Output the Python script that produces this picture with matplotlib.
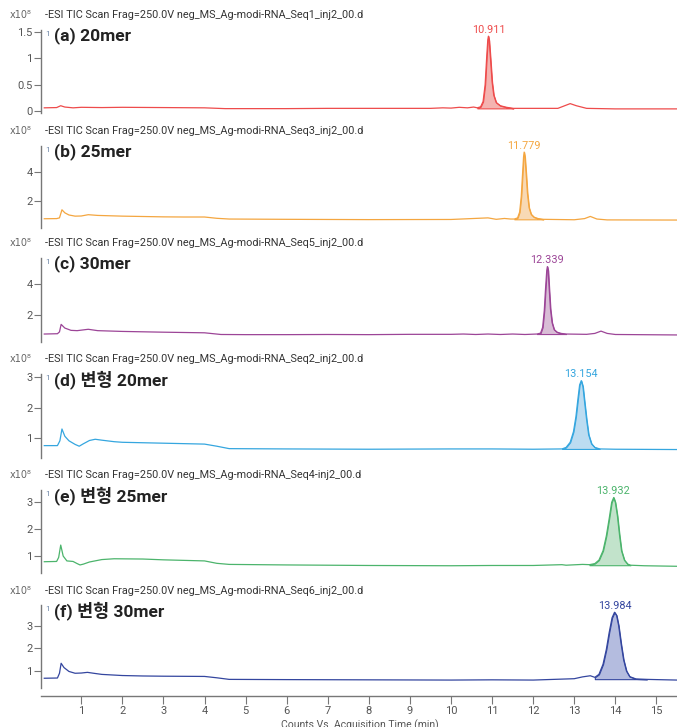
import matplotlib
matplotlib.use("Agg")
import matplotlib.pyplot as plt
import numpy as np

# ---- data (time in min, counts in 1e8) ----
files = ["Seq1_inj2_00.d", "Seq3_inj2_00.d", "Seq5_inj2_00.d",
         "Seq2_inj2_00.d", "Seq4-inj2_00.d", "Seq6_inj2_00.d"]
labels = ["(a) 20mer", "(b) 25mer", "(c) 30mer",
          "(d) 변형 20mer", "(e) 변형 25mer", "(f) 변형 30mer"]
peak_rt = [10.911, 11.779, 12.339, 13.154, 13.932, 13.984]
peak_top = [1.42, 5.35, 5.16, 2.89, 3.18, 3.59]
fill_range = [(10.64, 11.52, 0.05), (11.54, 12.25, 0.70), (12.09, 12.80, 0.76),
              (12.70, 13.62, 0.63), (13.37, 14.37, 0.66), (13.50, 14.77, 0.64)]
yticks = [[0, 0.5, 1, 1.5], [2, 4], [2, 4], [1, 2, 3], [1, 2, 3], [1, 2, 3]]
ylims = [(-0.038, 1.537), (0.10, 5.77), (0.24, 5.72),
         (0.33, 3.11), (0.37, 3.46), (0.25, 3.91)]

t_a = [0.1, 0.4, 0.5, 0.6, 0.8, 1.0, 1.5, 2, 3, 4, 4.5, 5, 6, 7, 8, 9, 9.5, 9.8, 10, 10.2, 10.4, 10.55,
       10.64, 10.72, 10.78, 10.83, 10.87, 10.895, 10.91, 10.93, 10.96, 11.0, 11.04, 11.1, 11.2, 11.35, 11.52,
       12.0, 12.6, 12.8, 12.9, 13.05, 13.3, 14, 15, 15.5]
y_a = [0.06, 0.065, 0.10, 0.075, 0.06, 0.07, 0.065, 0.07, 0.065, 0.06, 0.045, 0.045, 0.045, 0.05, 0.05, 0.05, 0.05, 0.06, 0.055, 0.07, 0.06, 0.075,
       0.06, 0.08, 0.18, 0.5, 1.05, 1.35, 1.42, 1.33, 1.0, 0.55, 0.3, 0.16, 0.1, 0.07, 0.05,
       0.05, 0.05, 0.11, 0.14, 0.10, 0.05, 0.04, 0.04, 0.04]

t_b = [0.1, 0.4, 0.47, 0.53, 0.6, 0.7, 0.85, 1.0, 1.17, 1.4, 2, 3, 3.5, 4, 4.3, 4.6, 6, 8, 10, 10.9, 11.1, 11.3, 11.45,
       11.54, 11.62, 11.67, 11.71, 11.74, 11.765, 11.78, 11.8, 11.83, 11.86, 11.9, 11.95, 12.02, 12.12, 12.25,
       13.0, 13.25, 13.39, 13.55, 13.8, 15.5]
y_b = [0.74, 0.75, 0.80, 1.36, 1.15, 1.0, 0.92, 0.93, 1.02, 0.97, 0.92, 0.87, 0.86, 0.86, 0.77, 0.72, 0.70, 0.68, 0.69, 0.80, 0.70, 0.76, 0.72,
       0.72, 0.80, 1.2, 2.3, 3.8, 5.0, 5.35, 5.0, 3.8, 2.5, 1.5, 1.05, 0.85, 0.75, 0.70,
       0.67, 0.75, 0.90, 0.72, 0.66, 0.65]

t_c = [0.1, 0.42, 0.47, 0.51, 0.6, 0.75, 0.9, 1.17, 1.4, 2, 3, 4, 4.4, 5, 6, 7, 8, 9, 10, 10.3, 10.6, 10.9, 11.2, 11.5, 11.8,
       12.09, 12.18, 12.23, 12.27, 12.3, 12.33, 12.345, 12.365, 12.39, 12.42, 12.46, 12.51, 12.58, 12.68, 12.8,
       13.3, 13.5, 13.65, 13.8, 14, 15.5]
y_c = [0.76, 0.78, 0.90, 1.39, 1.15, 1.0, 0.98, 1.07, 0.98, 0.93, 0.88, 0.84, 0.73, 0.72, 0.72, 0.73, 0.72, 0.74, 0.74, 0.76, 0.73, 0.76, 0.73, 0.76, 0.73,
       0.76, 0.82, 1.2, 2.3, 3.7, 4.9, 5.16, 4.9, 3.7, 2.4, 1.5, 1.05, 0.88, 0.80, 0.76,
       0.74, 0.80, 0.95, 0.80, 0.73, 0.70]

t_d = [0.1, 0.42, 0.48, 0.53, 0.6, 0.7, 0.85, 0.95, 1.05, 1.2, 1.34, 1.5, 1.8, 2.0, 3, 4, 4.3, 4.6, 6, 8, 10, 11, 12,
       12.7, 12.8, 12.9, 12.98, 13.04, 13.09, 13.13, 13.17, 13.21, 13.25, 13.3, 13.35, 13.42, 13.5, 13.62,
       14, 15.5]
y_d = [0.74, 0.74, 0.90, 1.29, 1.05, 0.90, 0.78, 0.72, 0.80, 0.91, 0.95, 0.92, 0.87, 0.85, 0.82, 0.79, 0.72, 0.64, 0.63, 0.62, 0.63, 0.63, 0.62,
       0.63, 0.68, 0.85, 1.2, 1.7, 2.3, 2.75, 2.89, 2.7, 2.2, 1.6, 1.1, 0.80, 0.68, 0.63,
       0.62, 0.61]

t_e = [0.1, 0.4, 0.45, 0.5, 0.56, 0.65, 0.8, 0.9, 0.97, 1.05, 1.2, 1.5, 1.8, 2.5, 3, 4, 4.3, 4.6, 6, 8, 10, 11, 12, 12.7, 12.8, 13.2,
       13.37, 13.5, 13.6, 13.7, 13.78, 13.85, 13.91, 13.96, 14.0, 14.05, 14.1, 14.15, 14.22, 14.3, 14.37,
       14.7, 15.5]
y_e = [0.79, 0.80, 0.95, 1.41, 1.0, 0.82, 0.80, 0.72, 0.67, 0.70, 0.78, 0.87, 0.90, 0.89, 0.86, 0.82, 0.73, 0.69, 0.67, 0.65, 0.64, 0.65, 0.65, 0.68, 0.66, 0.69,
       0.68, 0.72, 0.85, 1.2, 1.75, 2.4, 3.0, 3.18, 3.0, 2.5, 1.8, 1.2, 0.85, 0.70, 0.66,
       0.64, 0.62]

t_f = [0.1, 0.42, 0.47, 0.51, 0.58, 0.7, 0.85, 1.0, 1.15, 1.3, 1.5, 2.0, 2.5, 3.0, 4.0, 4.3, 4.6, 6, 8, 10, 11, 12, 12.5, 13.0, 13.2, 13.39,
       13.5, 13.6, 13.7, 13.78, 13.85, 13.92, 13.98, 14.03, 14.08, 14.14, 14.2, 14.27, 14.35, 14.5, 14.77,
       15, 15.5]
y_f = [0.68, 0.69, 0.90, 1.34, 1.15, 0.98, 0.90, 0.91, 0.94, 0.90, 0.85, 0.80, 0.78, 0.77, 0.76, 0.70, 0.63, 0.62, 0.61, 0.60, 0.61, 0.60, 0.63, 0.66, 0.74, 0.79,
       0.72, 0.85, 1.3, 1.95, 2.7, 3.35, 3.59, 3.45, 3.0, 2.2, 1.5, 1.0, 0.75, 0.65, 0.63,
       0.62, 0.60]

times = [t_a, t_b, t_c, t_d, t_e, t_f]
counts = [y_a, y_b, y_c, y_d, y_e, y_f]
colors = ["#ee4b4b", "#f4a640", "#9c4597", "#35a6df", "#4cb46c", "#34469f"]
fills = ["#f4b3b0", "#f8d9b4", "#d9bdd6", "#bcdcf1", "#c2e3cb", "#b4bcdf"]

# ---- layout in pixels ----
W, H = 677, 727
ax_px = [(30, 113), (146, 228), (258, 342), (374, 458), (490, 573), (605, 688)]
left_px = 41

fig = plt.figure(figsize=(W / 100, H / 100), dpi=100)
font = ["Roboto", "Noto Sans CJK KR", "DejaVu Sans"]


def fx(px):
    return px / W


def fy(py):
    return 1 - py / H


for i in range(6):
    top, bot = ax_px[i]
    ax = fig.add_axes([fx(left_px), fy(bot), 1 - fx(left_px), (bot - top) / H])
    t = np.array(times[i])
    y = np.array(counts[i])
    c = colors[i]
    ax.plot(t, y, color=c, lw=0.9, zorder=3)

    t0, t1, base = fill_range[i]
    m = (t >= t0 - 1e-9) & (t <= t1 + 1e-9)
    ax.fill_between(t[m], y[m], base, facecolor=fills[i], edgecolor=c, lw=0.8, zorder=2)

    ax.annotate(f"{peak_rt[i]:.3f}", (peak_rt[i], peak_top[i]), xytext=(0, 1),
                textcoords="offset points", ha="center", va="bottom",
                fontsize=7.8, color=c, family=font)

    ax.set_xlim(0.02, 15.5)
    ax.set_ylim(*ylims[i])
    ax.set_yticks(yticks[i])
    ax.set_yticklabels([f"{v:g}" for v in yticks[i]], family=font)
    ax.tick_params(axis="y", colors="#777777", labelcolor="#555555", labelsize=8,
                   length=5, width=0.8, pad=1)
    for s in ["top", "right"]:
        ax.spines[s].set_visible(False)
    ax.spines["left"].set_color("#777777")
    ax.spines["left"].set_linewidth(1.0)

    if i < 5:
        ax.spines["bottom"].set_visible(False)
        ax.set_xticks([])
    else:
        ax.spines["bottom"].set_position(("outward", 6))
        ax.spines["bottom"].set_color("#777777")
        ax.spines["bottom"].set_linewidth(1.0)
        ax.set_xticks(range(1, 16))
        ax.set_xticklabels([str(v) for v in range(1, 16)], family=font)
        ax.tick_params(axis="x", colors="#777777", labelcolor="#555555", labelsize=8,
                       length=6, width=0.8, pad=1)

    # header line and multiplier
    fig.text(fx(45), fy(top - 14.5), "-ESI TIC Scan Frag=250.0V neg_MS_Ag-modi-RNA_" + files[i],
             fontsize=7.8, color="#333333", va="center", ha="left", family=font)
    fig.text(fx(10), fy(top - 14.5), "x10⁸", fontsize=7, color="#666666",
             va="center", ha="left", family=["DejaVu Sans"])
    fig.text(fx(45), fy(top + 1), "1", fontsize=6, color="#7088a8",
             va="top", ha="left", family=font)
    fig.text(fx(54), fy(top + 6), labels[i], fontsize=12.5, fontweight="bold",
             color="#222222", va="center", ha="left", family=font)

fig.text(fx(360), fy(719), "Counts Vs. Acquisition Time (min)", fontsize=7.5,
         color="#555555", ha="center", va="top", family=font)

fig.savefig("out.png", dpi=100)
